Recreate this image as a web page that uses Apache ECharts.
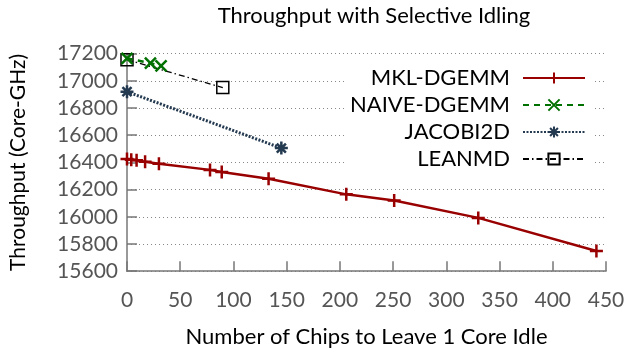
<!DOCTYPE html>
<html><head><meta charset="utf-8">
<script src="https://cdn.jsdelivr.net/npm/echarts@6/dist/echarts.min.js"></script>
<style>html,body{margin:0;padding:0;background:#fff}#c{width:629px;height:358px}</style>
</head><body><div id="c"></div>
<script>
const xTicks = [0, 50, 100, 150, 200, 250, 300, 350, 400, 450];
const yTicks = [15600, 15800, 16000, 16200, 16400, 16600, 16800, 17000, 17200];
const seriesNames = ['MKL-DGEMM', 'NAIVE-DGEMM', 'JACOBI2D', 'LEANMD'];
const mklX = [0, 4, 9, 17, 30, 78, 89, 133, 206, 251, 330, 441];
const mklY = [16425, 16420, 16415, 16405, 16390, 16345, 16330, 16280, 16165, 16120, 15992, 15748];
const naiveX = [0, 22, 32];
const naiveY = [17165, 17130, 17110];
const jacobiX = [0, 145];
const jacobiY = [16920, 16505];
const leanX = [0, 90];
const leanY = [17155, 16950];

const zip = (xs, ys) => xs.map((x, i) => [x, ys[i]]);
const FONT = 'Lato';
const plusPath = 'path://M5,0L5,10M0,5L10,5';
const crossPath = 'path://M0,0L10,10M10,0L0,10';
const starPath = 'path://M5,0L5,10M0,5L10,5M1.5,1.5L8.5,8.5M8.5,1.5L1.5,8.5';

const chart = echarts.init(document.getElementById('c'), null, {renderer: 'canvas'});
chart.setOption({
  backgroundColor: '#fff',
  animation: false,
  title: {
    text: 'Throughput with Selective Idling',
    left: 369, top: 0, textAlign: 'center',
    textStyle: {fontFamily: FONT, fontSize: 22, fontWeight: 'normal', color: '#000'}
  },
  grid: {left: 127, right: 23, top: 53.6, bottom: 86.8, containLabel: false},
  legend: {
    orient: 'vertical', right: 35, top: 65, align: 'right',
    itemWidth: 62, itemHeight: 14, itemGap: 5,
    backgroundColor: '#fff', padding: [2, 8, 2, 4],
    formatter: name => '{t|' + name + '}',
    textStyle: {fontFamily: FONT, fontSize: 22, color: '#000',
      rich: {t: {fontFamily: FONT, fontSize: 22, color: '#000', padding: [0, 8, 0, 0]}}},
    data: seriesNames
  },
  xAxis: {
    type: 'value', min: xTicks[0], max: xTicks[xTicks.length - 1], interval: 50,
    name: 'Number of Chips to Leave 1 Core Idle', nameLocation: 'middle', nameGap: 55,
    nameTextStyle: {fontFamily: FONT, fontSize: 22, color: '#000'},
    axisLine: {show: true, lineStyle: {color: '#777', width: 1.5}},
    axisTick: {show: true, inside: true, length: 10, lineStyle: {color: '#777', width: 1.5}},
    axisLabel: {fontFamily: FONT, fontSize: 21, color: '#555', margin: 19},
    splitLine: {show: false}
  },
  yAxis: {
    type: 'value', min: yTicks[0], max: yTicks[yTicks.length - 1], interval: 200,
    name: 'Throughput (Core-GHz)', nameLocation: 'middle', nameGap: 98, nameRotate: 90,
    nameTextStyle: {fontFamily: FONT, fontSize: 21, color: '#000'},
    axisLine: {show: true, lineStyle: {color: '#777', width: 1.5}},
    axisTick: {show: true, inside: true, length: 10, lineStyle: {color: '#777', width: 1.5}},
    axisLabel: {fontFamily: FONT, fontSize: 21, color: '#555', margin: 9, formatter: v => String(v)},
    splitLine: {show: true, lineStyle: {color: '#888', width: 1, type: [1, 3]}}
  },
  series: [
    {
      name: seriesNames[0], type: 'line', data: zip(mklX, mklY), z: 4,
      symbol: plusPath, symbolSize: 13, showAllSymbol: true,
      lineStyle: {color: '#990000', width: 2.5},
      itemStyle: {color: 'transparent', borderColor: '#990000', borderWidth: 2.5}
    },
    {
      name: seriesNames[1], type: 'line', data: zip(naiveX, naiveY), z: 5,
      symbol: crossPath, symbolSize: 11,
      lineStyle: {color: '#007000', width: 2.5, type: [6, 5]},
      itemStyle: {color: 'transparent', borderColor: '#007000', borderWidth: 2.5}
    },
    {
      name: seriesNames[2], type: 'line', data: zip(jacobiX, jacobiY), z: 3,
      symbol: starPath, symbolSize: 13,
      lineStyle: {color: '#243a50', width: 3, type: [2, 1.5]},
      itemStyle: {color: 'transparent', borderColor: '#243a50', borderWidth: 2.5}
    },
    {
      name: seriesNames[3], type: 'line', data: zip(leanX, leanY), z: 4,
      symbol: 'rect', symbolSize: 12,
      lineStyle: {color: '#000', width: 1.3, type: [6, 3, 1.5, 3]},
      itemStyle: {color: 'transparent', borderColor: '#000', borderWidth: 1.5}
    }
  ]
});
</script></body></html>
